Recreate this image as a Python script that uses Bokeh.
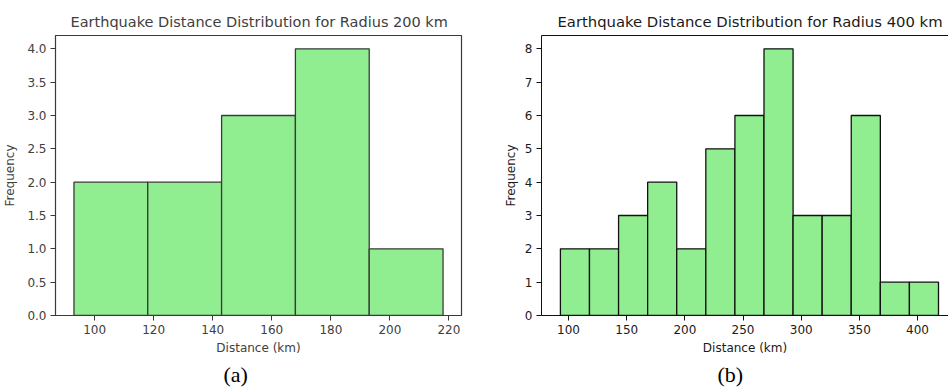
from bokeh.plotting import figure
from bokeh.layouts import row
from bokeh.models import FixedTicker, LinearAxis, Range1d, Title
from bokeh.embed import file_html
from bokeh.resources import INLINE

# ---- data ----
a_edges = [93, 118, 143, 168, 193, 218]
a_counts = [2, 2, 3, 4, 1]
a_xticks = [100, 120, 140, 160, 180, 200, 220]
a_yticks = [0.0, 0.5, 1.0, 1.5, 2.0, 2.5, 3.0, 3.5, 4.0]

b_edges = [93, 118, 143, 168, 193, 218, 243, 268, 293, 318, 343, 368, 393, 418]
b_counts = [2, 2, 3, 4, 2, 5, 6, 8, 3, 3, 6, 1, 1]
b_xticks = [100, 150, 200, 250, 300, 350, 400]
b_yticks = [0, 1, 2, 3, 4, 5, 6, 7, 8]

titles = ["Earthquake Distance Distribution for Radius 200 km",
          "Earthquake Distance Distribution for Radius 400 km"]
captions = ["(a)", "(b)"]
x_label = "Distance (km)"
y_label = "Frequency"

FONT = "DejaVu Sans"
FILL = "#90EE90"


def make(edges, counts, xticks, yticks, ylabels, title, caption, width,
         bl, br, xr, yr, tcol, lcol, full_box, t_off, c_off, t_size, lab_standoff):
    p = figure(width=width, height=390, output_backend="svg", toolbar_location=None,
               x_range=Range1d(*xr), y_range=Range1d(*yr), title=title,
               min_border_left=bl, min_border_right=br, min_border_top=35,
               min_border_bottom=75)
    p.grid.visible = False
    p.background_fill_color = "white"
    p.border_fill_color = "white"
    p.quad(left=edges[:-1], right=edges[1:], top=counts, bottom=0,
           fill_color=FILL, line_color=lcol, line_width=1.3)
    p.title.text_font = FONT
    p.title.text_font_size = t_size
    p.title.text_font_style = "normal"
    p.title.text_color = tcol
    p.title.align = "left"
    p.title.offset = t_off
    p.title.standoff = 12
    for ax, ticks in ((p.xaxis[0], xticks), (p.yaxis[0], yticks)):
        ax.ticker = FixedTicker(ticks=ticks)
        ax.minor_tick_line_color = None
        ax.major_tick_in = 0
        ax.major_tick_out = 5
        ax.major_tick_line_color = lcol
        ax.axis_line_color = lcol
        ax.major_label_text_font = FONT
        ax.major_label_text_font_size = "12px"
        ax.major_label_text_color = tcol
        ax.major_label_standoff = 4
        ax.axis_label_text_font = FONT
        ax.axis_label_text_font_size = "12px"
        ax.axis_label_text_font_style = "normal"
        ax.axis_label_text_color = tcol
        ax.axis_label_standoff = 4
    p.yaxis[0].axis_label_standoff = lab_standoff
    p.xaxis[0].axis_label = x_label
    p.yaxis[0].axis_label = y_label
    p.yaxis[0].major_label_overrides = {t: l for t, l in zip(yticks, ylabels)}
    if full_box:
        p.outline_line_color = lcol
        p.outline_line_width = 1.2
        p.outline_line_alpha = 1
    else:
        p.outline_line_color = None
        top = LinearAxis(ticker=FixedTicker(ticks=[]), axis_line_color=lcol,
                         major_tick_line_color=None, minor_tick_line_color=None,
                         major_label_text_font_size="0px")
        p.add_layout(top, "above")
    cap = Title(text=caption, text_font="Liberation Serif", text_font_size="22px",
                text_font_style="normal", text_color="black", align="left",
                offset=c_off, standoff=6, vertical_align="middle")
    p.add_layout(cap, "below")
    return p


a_ylabels = [f"{v:.1f}" for v in a_yticks]
b_ylabels = [str(v) for v in b_yticks]

pa = make(a_edges, a_counts, a_xticks, a_yticks, a_ylabels, titles[0], captions[0],
          470, 54, 9, (86.75, 224.25), (0, 4.2), "#404040", "#3a3a3a", True, 15, 168,
          "14.5px", 7)
pb = make(b_edges, b_counts, b_xticks, b_yticks, b_ylabels, titles[1], captions[1],
          478, 71, 0, (76.75, 426.6), (0, 8.4), "#1a1a1a", "#111111", False, 16, 176,
          "14.8px", 4)

layout = row(pa, pb)
open("out.html", "w").write(file_html(layout, INLINE))
